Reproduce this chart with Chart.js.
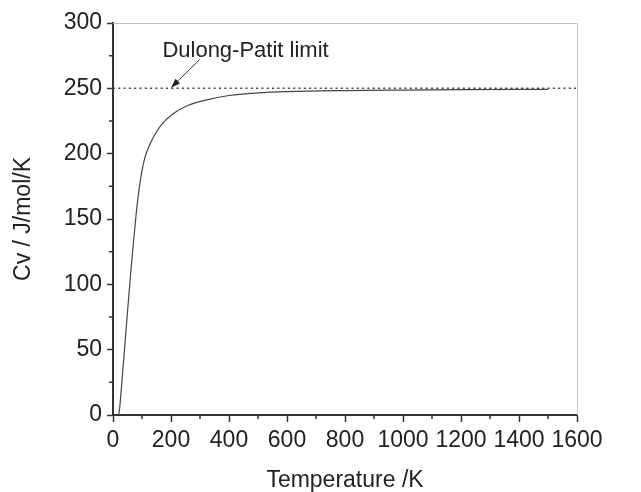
<!DOCTYPE html>
<html>
<head>
<meta charset="utf-8">
<script src="https://cdn.jsdelivr.net/npm/chart.js@4.4.0/dist/chart.umd.min.js"></script>
<style>
  body { margin: 0; background: #fff; }
  canvas { display: block; }
</style>
</head>
<body>
<canvas id="cv-chart" width="641" height="492"></canvas>
<script>
// heat capacity curve
const temperatures = [18, 21, 25, 30, 40, 50, 60, 70, 80, 90, 100, 110, 125, 140, 170, 210, 260, 320, 400, 500, 600, 800, 1000, 1200, 1500];
const cvValues     = [0, 2, 10, 24, 51, 79, 106, 131, 154, 173, 187, 197, 206, 213, 223, 231, 237, 241, 244.5, 246.5, 247.5, 248.3, 248.7, 249, 249.2];

// Dulong-Petit limit (dotted line)
const limitT = [0, 1600];
const limitCv = [250, 250];

const xTicks = [0, 200, 400, 600, 800, 1000, 1200, 1400, 1600];
const yTicks = [0, 50, 100, 150, 200, 250, 300];
const xMinorTicks = [100, 300, 500, 700, 900, 1100, 1300, 1500];
const yMinorTicks = [25, 75, 125, 175, 225, 275];

// annotation, in data units
const noteText = 'Dulong-Patit limit';
const notePos = { x: 457, y: 274 };
const arrowFrom = { x: 299, y: 272 };
const arrowTo = { x: 201, y: 250.7 };

const FONT = "'Liberation Sans', Arial, sans-serif";
const INK = '#222';

const frameAndMinor = {
  id: 'frameAndMinor',
  afterDraw(chart) {
    const { ctx, chartArea: a, scales: { x, y } } = chart;
    ctx.save();
    // light top/right frame
    ctx.strokeStyle = '#c4c4c4';
    ctx.lineWidth = 1;
    ctx.beginPath();
    ctx.moveTo(a.left, a.top + 0.5);
    ctx.lineTo(a.right + 0.5, a.top + 0.5);
    ctx.lineTo(a.right + 0.5, a.bottom);
    ctx.stroke();

    // minor ticks
    ctx.strokeStyle = '#333';
    ctx.lineWidth = 1.5;
    ctx.beginPath();
    xMinorTicks.forEach(v => {
      const px = x.getPixelForValue(v);
      ctx.moveTo(px, a.bottom);
      ctx.lineTo(px, a.bottom + 4);
    });
    yMinorTicks.forEach(v => {
      const py = y.getPixelForValue(v);
      ctx.moveTo(a.left, py);
      ctx.lineTo(a.left - 4, py);
    });
    ctx.stroke();

    // annotation text + arrow
    ctx.fillStyle = INK;
    ctx.font = '22px ' + FONT;
    ctx.textAlign = 'center';
    ctx.textBaseline = 'alphabetic';
    ctx.fillText(noteText, x.getPixelForValue(notePos.x), y.getPixelForValue(notePos.y));

    const x1 = x.getPixelForValue(arrowFrom.x), y1 = y.getPixelForValue(arrowFrom.y);
    const x2 = x.getPixelForValue(arrowTo.x), y2 = y.getPixelForValue(arrowTo.y);
    ctx.strokeStyle = '#333';
    ctx.lineWidth = 1;
    ctx.beginPath();
    ctx.moveTo(x1, y1);
    ctx.lineTo(x2, y2);
    ctx.stroke();
    const ang = Math.atan2(y2 - y1, x2 - x1);
    const len = 9, half = 3.2;
    ctx.fillStyle = '#222';
    ctx.beginPath();
    ctx.moveTo(x2, y2);
    ctx.lineTo(x2 - len * Math.cos(ang) + half * Math.sin(ang), y2 - len * Math.sin(ang) - half * Math.cos(ang));
    ctx.lineTo(x2 - len * Math.cos(ang) - half * Math.sin(ang), y2 - len * Math.sin(ang) + half * Math.cos(ang));
    ctx.closePath();
    ctx.fill();
    ctx.restore();
  }
};

new Chart(document.getElementById('cv-chart'), {
  type: 'line',
  data: {
    datasets: [
      {
        data: temperatures.map((t, i) => ({ x: t, y: cvValues[i] })),
        borderColor: '#444',
        borderWidth: 1.2,
        pointRadius: 0,
        cubicInterpolationMode: 'monotone'
      },
      {
        data: limitT.map((t, i) => ({ x: t, y: limitCv[i] })),
        borderColor: '#444',
        borderWidth: 1.5,
        borderDash: [2, 3.3],
        pointRadius: 0
      }
    ]
  },
  options: {
    responsive: false,
    animation: false,
    layout: { padding: { top: 23, right: 64, left: 0, bottom: 0 } },
    plugins: { legend: { display: false }, tooltip: { enabled: false } },
    scales: {
      x: {
        type: 'linear',
        min: 0, max: 1600,
        afterFit: s => { s.height = 77; },
        afterBuildTicks: s => { s.ticks = xTicks.map(v => ({ value: v })); },
        grid: { drawOnChartArea: false, tickLength: 7, tickColor: '#333', tickWidth: 1.5 },
        border: { color: '#333', width: 2 },
        ticks: {
          color: INK, font: { family: FONT, size: 23 }, padding: 5,
          maxRotation: 0, minRotation: 0, autoSkip: false,
          callback: v => String(v)
        },
        title: { display: true, text: 'Temperature /K', color: INK, font: { family: FONT, size: 23, lineHeight: 1 }, padding: 0 }
      },
      y: {
        min: 0, max: 300,
        afterFit: s => { s.width = 113; },
        afterBuildTicks: s => { s.ticks = yTicks.map(v => ({ value: v })); },
        grid: { drawOnChartArea: false, tickLength: 6, tickColor: '#333', tickWidth: 1.5 },
        border: { color: '#333', width: 2 },
        ticks: { color: INK, font: { family: FONT, size: 23 }, padding: 5, autoSkip: false, callback: v => String(v) },
        title: { display: true, text: 'Cv / J/mol/K', color: INK, font: { family: FONT, size: 23, lineHeight: 1 }, padding: { top: 12, bottom: 0 } }
      }
    }
  },
  plugins: [frameAndMinor]
});
</script>
</body>
</html>
